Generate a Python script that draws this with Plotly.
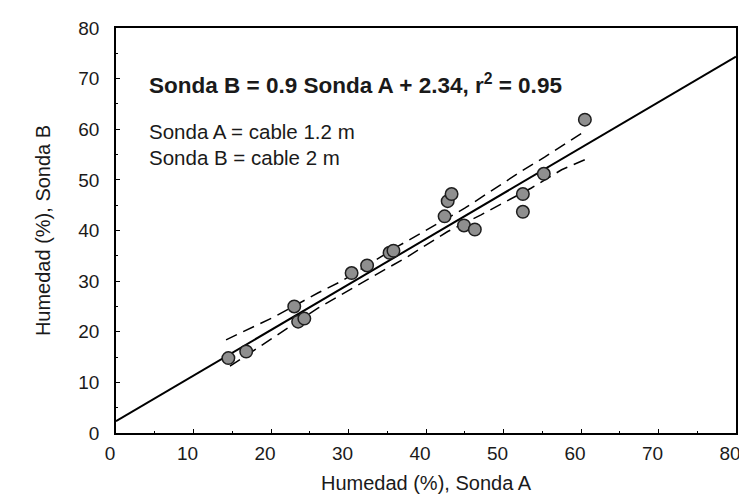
import plotly.graph_objects as go

# Measured points (Sonda A, Sonda B)
sonda_a = [14.5, 16.8, 23.0, 23.5, 24.3, 30.4, 32.4, 35.3, 35.8, 42.4, 42.8, 43.3, 44.9, 46.3, 52.5, 52.5, 55.2, 60.5]
sonda_b = [14.8, 16.1, 25.0, 22.0, 22.6, 31.6, 33.1, 35.6, 36.0, 42.8, 45.8, 47.2, 41.0, 40.2, 47.2, 43.7, 51.2, 61.9]

# Regression line: Sonda B = 0.9 Sonda A + 2.34
reg_x = [0, 80]
reg_y = [2.34, 0.9 * 80 + 2.34]

# Confidence bands
upper_x = [14.2, 20.5, 26.1, 29.1, 36.4, 45.0, 48.0, 52.3, 55.3, 60.5]
upper_y = [18.4, 23.0, 27.7, 30.0, 36.9, 44.4, 47.4, 51.7, 54.5, 59.6]
lower_x = [14.7, 19.6, 26.1, 32.1, 37.7, 42.8, 47.1, 53.6, 57.5, 60.5]
lower_y = [13.2, 18.1, 24.7, 30.0, 34.9, 39.8, 43.1, 48.4, 52.0, 54.0]

ticks = [0, 10, 20, 30, 40, 50, 60, 70, 80]

font_family = "Liberation Sans, Arial, sans-serif"
txt_color = "#1a1a1a"

fig = go.Figure()
fig.add_trace(go.Scatter(x=reg_x, y=reg_y, mode="lines",
                         line=dict(color="black", width=2), showlegend=False))
fig.add_trace(go.Scatter(x=upper_x, y=upper_y, mode="lines",
                         line=dict(color="black", width=1.5, dash="12px,7px"), showlegend=False))
fig.add_trace(go.Scatter(x=lower_x, y=lower_y, mode="lines",
                         line=dict(color="black", width=1.5, dash="12px,7px"), showlegend=False))
fig.add_trace(go.Scatter(x=sonda_a, y=sonda_b, mode="markers",
                         marker=dict(size=12.5, color="#8f8f8f",
                                     line=dict(color="#1e1e1e", width=1.5)),
                         showlegend=False))

axis_common = dict(
    range=[0, 80], tickvals=ticks, showline=True, linecolor="black", linewidth=1.5,
    mirror=True, ticks="inside", ticklen=4, tickcolor="black", showgrid=False,
    zeroline=False, automargin=False,
    tickfont=dict(size=19, color=txt_color, family=font_family),
    minor=dict(ticks="inside", ticklen=2, dtick=5, tickcolor="black"),
)

fig.update_xaxes(**axis_common, ticklabelstandoff=2, ticklabelshift=-6,
                 title=dict(text="Humedad (%), Sonda A", standoff=13,
                            font=dict(size=20, color=txt_color, family=font_family)))
fig.update_yaxes(**axis_common, ticklabelstandoff=11,
                 title=dict(text="Humedad (%), Sonda B", standoff=22,
                            font=dict(size=20, color=txt_color, family=font_family)))

fig.add_annotation(x=0.05, y=0.862, xref="paper", yref="paper", xanchor="left", yanchor="middle",
                   text="<b>Sonda B = 0.9 Sonda A + 2.34, r<sup>2</sup> = 0.95</b>",
                   showarrow=False, font=dict(size=22.5, color=txt_color, family=font_family))
fig.add_annotation(x=0.05, y=0.745, xref="paper", yref="paper", xanchor="left", yanchor="middle",
                   text="Sonda A = cable 1.2 m", showarrow=False,
                   font=dict(size=20.5, color=txt_color, family=font_family))
fig.add_annotation(x=0.05, y=0.681, xref="paper", yref="paper", xanchor="left", yanchor="middle",
                   text="Sonda B = cable 2 m", showarrow=False,
                   font=dict(size=20.5, color=txt_color, family=font_family))

fig.update_layout(width=747, height=504, margin=dict(l=108, r=19, t=20, b=79),
                  plot_bgcolor="white", paper_bgcolor="white",
                  font=dict(family=font_family))

fig.write_html("out.html")
